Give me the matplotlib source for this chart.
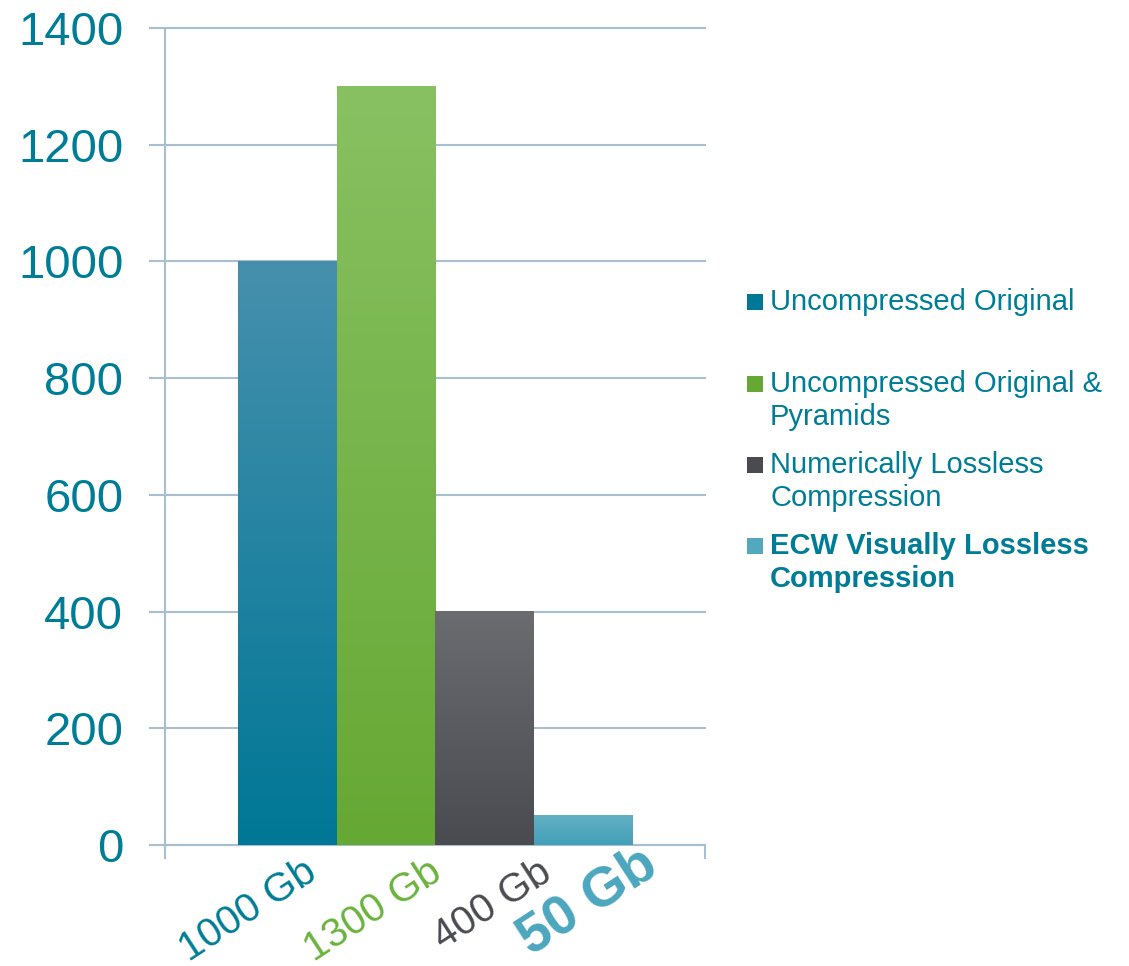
import matplotlib.pyplot as plt
import numpy as np
from matplotlib.colors import LinearSegmentedColormap
from matplotlib.patches import Rectangle

plt.rcParams['font.family'] = ['Liberation Sans', 'DejaVu Sans']

series = ['Uncompressed Original', 'Uncompressed Original &\nPyramids',
          'Numerically Lossless\nCompression', 'ECW Visually Lossless\nCompression']
values = [1000, 1300, 400, 50]
labels = ['1000 Gb', '1300 Gb', '400 Gb', '50 Gb']
yticks = [0, 200, 400, 600, 800, 1000, 1200, 1400]

top_cols = ['#4690ad', '#88c162', '#6b6c70', '#63b0c3']
bot_cols = ['#007796', '#66a834', '#4a4b50', '#42a0b8']
label_cols = ['#007d96', '#6ab23e', '#4a4b50', '#4ba6be']
teal = '#007d96'
grid_col = '#a9bfd0'

fig = plt.figure(figsize=(11.29, 9.66), dpi=100)
ax = fig.add_axes([165 / 1129, 1 - 845 / 966, 540 / 1129, 817 / 966])

width = 98.5 / 540
start = 73 / 540
grad = np.linspace(0, 1, 256).reshape(-1, 1)
for i, v in enumerate(values):
    x0 = start + i * width
    cmap = LinearSegmentedColormap.from_list('g%d' % i, [bot_cols[i], top_cols[i]])
    ax.imshow(grad, extent=[x0, x0 + width, 0, v], origin='lower', aspect='auto',
              cmap=cmap, zorder=3)

ax.set_xlim(0, 1)
ax.set_ylim(0, 1400)
ax.set_aspect('auto')

for y in yticks:
    ax.axhline(y, color=grid_col, lw=1.5, zorder=1, clip_on=False)
    ax.plot([-15 / 540, 0], [y, y], color=grid_col, lw=1.5, clip_on=False)

for s in ['top', 'right']:
    ax.spines[s].set_visible(False)
ax.spines['left'].set_color(grid_col)
ax.spines['left'].set_linewidth(1.5)
ax.spines['left'].set_bounds(-13 * 1400 / 817, 1400)
ax.spines['bottom'].set_color(grid_col)
ax.spines['bottom'].set_linewidth(1.5)

ax.set_yticks(yticks)
ax.set_yticklabels([str(y) for y in yticks])
ax.tick_params(axis='y', length=0, pad=30, labelsize=34, labelcolor=teal)
ax.set_xticks([0, 1])
ax.set_xticklabels(['', ''])
ax.tick_params(axis='x', length=10, width=1.5, color=grid_col, direction='out')

# rotated value labels under the bars
offsets = [-0.025, 0.025, 0.045, 0.065]
tops = [-12, -12, -14, 12]
for i, lab in enumerate(labels):
    xr = start + (i + 1) * width + offsets[i]
    bold = i == 3
    ax.text(xr, tops[i], lab, rotation=33, ha='right', va='top',
            fontsize=40 if bold else 29, fontweight='bold' if bold else 'normal',
            color=label_cols[i], clip_on=False)

# legend drawn by hand so the markers line up with the first line
ys = [302, 384, 465, 546]
for i, name in enumerate(series):
    fig.patches.append(Rectangle((747 / 1129, 1 - (ys[i] + 8) / 966), 16 / 1129, 16 / 966,
                                 transform=fig.transFigure,
                                 facecolor=bot_cols[i] if i != 3 else '#52a8bd',
                                 edgecolor='none'))
    fig.text(770 / 1129, 1 - (ys[i] - 14) / 966, name, ha='left', va='top',
             fontsize=21, color=teal, fontweight='bold' if i == 3 else 'normal',
             linespacing=1.22)

fig.savefig('out.png', dpi=100)
